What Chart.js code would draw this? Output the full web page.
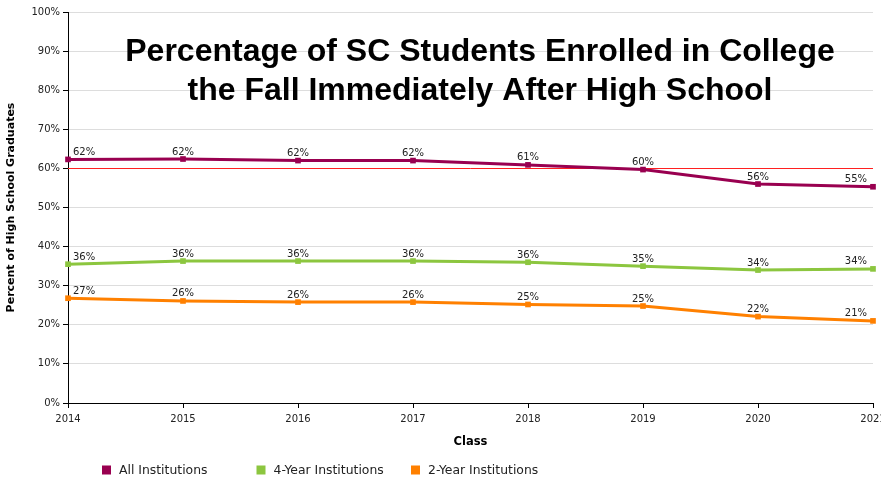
<!DOCTYPE html>
<html>
<head>
<meta charset="utf-8">
<script src="https://cdn.jsdelivr.net/npm/chart.js@4/dist/chart.umd.min.js"></script>
<style>
  html, body { margin: 0; padding: 0; background: #fff; overflow: hidden; }
  #wrap { width: 881px; height: 480px; }
</style>
</head>
<body>
<div id="wrap"><canvas id="c" width="881" height="480"></canvas></div>
<script>
// ---- data ----
const classYears = ['2014', '2015', '2016', '2017', '2018', '2019', '2020', '2021'];
const allInstitutions = [62.3, 62.4, 62.0, 62.0, 60.9, 59.7, 56.0, 55.3];
const fourYearInstitutions = [35.5, 36.3, 36.3, 36.3, 36.0, 35.0, 34.0, 34.3];
const twoYearInstitutions = [26.8, 26.1, 25.8, 25.8, 25.2, 24.8, 22.1, 21.0];
const seriesNames = ['All Institutions', '4-Year Institutions', '2-Year Institutions'];
const seriesColors = ['#990050', '#8cc63f', '#ff8000'];
const targetLine = 60;
const titleLines = ['Percentage of SC Students Enrolled in College', 'the Fall Immediately After High School'];
const yAxisTitle = 'Percent of High School Graduates';
const xAxisTitle = 'Class';

const FONT = "'DejaVu Sans', sans-serif";

const targetPlugin = {
  id: 'targetLine',
  beforeDatasetsDraw(chart) {
    const {ctx, chartArea, scales} = chart;
    const y = Math.round(scales.y.getPixelForValue(targetLine)) + 0.5;
    ctx.save();
    ctx.strokeStyle = '#ff2020';
    ctx.lineWidth = 1;
    ctx.beginPath();
    ctx.moveTo(chartArea.left, y);
    ctx.lineTo(chartArea.right, y);
    ctx.stroke();
    ctx.restore();
  }
};

const labelPlugin = {
  id: 'pointLabels',
  afterDatasetsDraw(chart) {
    const {ctx} = chart;
    ctx.save();
    ctx.font = '10px ' + FONT;
    ctx.fillStyle = '#222';
    ctx.textBaseline = 'alphabetic';
    chart.data.datasets.forEach((ds, di) => {
      const meta = chart.getDatasetMeta(di);
      const n = meta.data.length;
      meta.data.forEach((pt, i) => {
        const txt = Math.round(ds.data[i]) + '%';
        let x = pt.x;
        if (i === 0) { ctx.textAlign = 'left'; x = pt.x + 5; }
        else if (i === n - 1) { ctx.textAlign = 'right'; x = pt.x - 6; }
        else { ctx.textAlign = 'center'; }
        ctx.fillText(txt, x, pt.y - 4.5);
      });
    });
    ctx.restore();
  }
};

const titleLegendPlugin = {
  id: 'titleLegend',
  afterDraw(chart) {
    const {ctx} = chart;
    ctx.save();
    // title
    ctx.font = "bold 32px 'Liberation Sans', Arial, sans-serif";
    ctx.fillStyle = '#000';
    ctx.textAlign = 'center';
    ctx.textBaseline = 'alphabetic';
    ctx.fillText(titleLines[0], 480, 61);
    ctx.fillText(titleLines[1], 480, 99.5);
    // legend
    ctx.font = '12.4px ' + FONT;
    ctx.textAlign = 'left';
    ctx.textBaseline = 'middle';
    chart.data.datasets.forEach((ds, i) => {
      const x = 102 + i * 154.5;
      ctx.fillStyle = ds.borderColor;
      ctx.fillRect(x, 465.5, 9, 9);
      ctx.fillStyle = '#222';
      ctx.fillText(ds.label, x + 17, 471);
    });
    ctx.restore();
  }
};

function mkDataset(label, data, color) {
  return {
    label, data,
    borderColor: color,
    backgroundColor: color,
    borderWidth: 3,
    pointStyle: 'rect',
    pointRadius: 4,
    pointBorderWidth: 0,
    tension: 0,
    fill: false,
    clip: false
  };
}

new Chart(document.getElementById('c'), {
  type: 'line',
  data: {
    labels: classYears,
    datasets: [
      mkDataset(seriesNames[0], allInstitutions, seriesColors[0]),
      mkDataset(seriesNames[1], fourYearInstitutions, seriesColors[1]),
      mkDataset(seriesNames[2], twoYearInstitutions, seriesColors[2])
    ]
  },
  options: {
    responsive: false,
    animation: false,
    devicePixelRatio: 1,
    layout: { padding: { left: 0, top: 12, right: 8, bottom: 27 } },
    plugins: {
      legend: { display: false },
      title: { display: false },
      tooltip: { enabled: false }
    },
    scales: {
      x: {
        type: 'category',
        offset: false,
        grid: { drawOnChartArea: false, drawTicks: true, tickLength: 5, tickColor: '#000' },
        border: { display: true, color: '#000', width: 1 },
        ticks: { font: { family: FONT, size: 10 }, color: '#222', padding: 5, maxRotation: 0, autoSkip: false },
        title: { display: true, text: xAxisTitle, font: { family: FONT, size: 11.5, weight: 'bold' }, color: '#000', padding: { top: 0, bottom: 4 } },
        afterFit(scale) { scale.paddingLeft = 0; scale.paddingRight = 0; scale.height = 50; }
      },
      y: {
        min: 0, max: 100,
        grid: { color: '#dddddd', drawTicks: true, tickLength: 5, tickColor: '#000' },
        border: { display: true, color: '#000', width: 1 },
        ticks: { stepSize: 10, font: { family: FONT, size: 10 }, color: '#222', padding: 3, callback: v => v + '%' },
        title: { display: true, text: yAxisTitle, font: { family: FONT, size: 11, weight: 'bold' }, color: '#000', padding: { top: 5, bottom: 0 } },
        afterFit(scale) { scale.width = 68; scale.paddingTop = 0; scale.paddingBottom = 0; }
      }
    }
  },
  plugins: [targetPlugin, labelPlugin, titleLegendPlugin]
});
</script>
</body>
</html>
